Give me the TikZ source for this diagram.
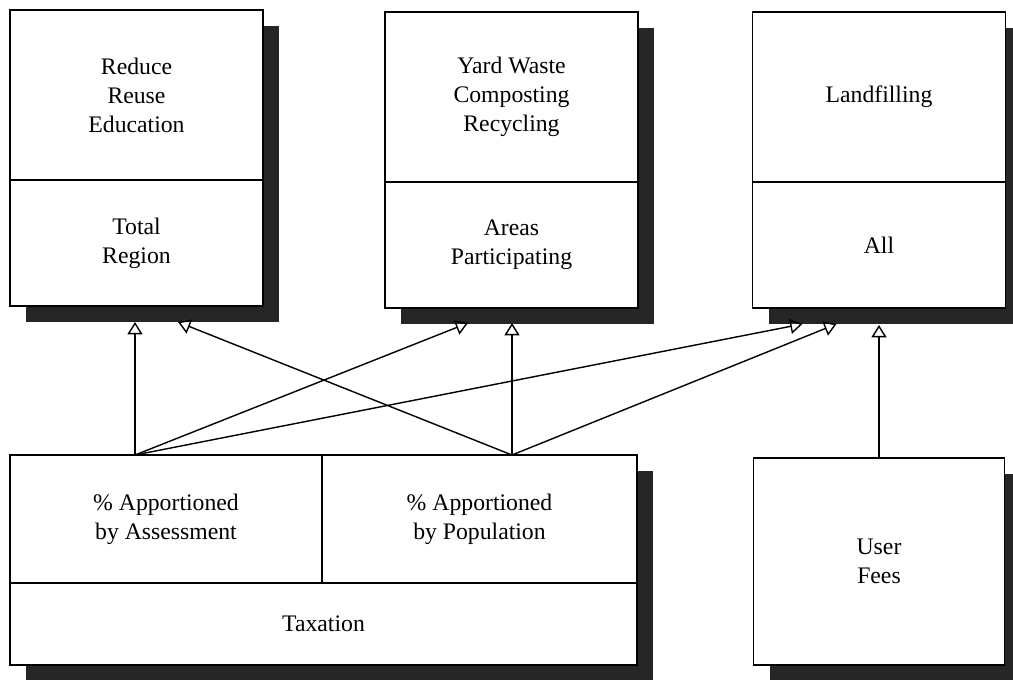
\documentclass[tikz,border=0pt]{standalone}
\usepackage{fontspec}
\setmainfont{Liberation Serif}
\usetikzlibrary{arrows.meta,positioning,calc,shadows}
\def\px{0.02cm}
\tikzset{
  compart/.style={draw,line width=0.8pt,fill=white,inner sep=0pt,outer sep=0pt,align=center,
    font=\fontsize{13.5}{16.5}\selectfont,
    drop shadow={shadow xshift=0.32cm,shadow yshift=-0.32cm,opacity=1,fill=black!85}},
  upper/.style={compart,minimum width=253*\px,minimum height=170*\px},
  lower/.style={compart,minimum width=253*\px,minimum height=126*\px},
  link/.style={->,line width=0.8pt},
}
\begin{document}
\begin{tikzpicture}[x=0.02cm,y=-0.02cm,>={Triangle[open,length=7pt,width=8.5pt]}]
\useasboundingbox (0,0) rectangle (1013,679);
%%% upper row of classes
\node[upper] (redtop) at (136.5,95) {Reduce\\Reuse\\Education};
\node[lower,below=0pt of redtop] (redbot) {Total\\Region};
\node[upper] (yardtop) at (511.5,97) {Yard Waste\\Composting\\Recycling};
\node[lower,below=0pt of yardtop] (yardbot) {Areas\\Participating};
\node[upper] (landtop) at (879,97) {Landfilling};
\node[lower,below=0pt of landtop] (landbot) {All};
%%% funding
\node[compart,minimum width=312*\px,minimum height=128*\px] (assess) at (166,519) {\% Apportioned\\by Assessment};
\node[compart,minimum width=315*\px,minimum height=128*\px,right=0pt of assess] (popul) {\% Apportioned\\by Population};
\node[compart,minimum width=627*\px,minimum height=82*\px,anchor=north west] (tax) at (assess.south west) {Taxation};
\node[compart,minimum width=251*\px,minimum height=207*\px] (fees) at (879,561.5) {User\\Fees};
%% link ends
\coordinate (srcA) at ($(assess.north west)+(125,0)$);
\coordinate (srcP) at ($(popul.north west)+(190,0)$);
%% links
\draw[link] (srcA) -- ($(redbot.south west)+(125,16)$);
\draw[link] (srcP) -- ($(redbot.south west)+(168,16)$);
\draw[link] (srcA) -- ($(yardbot.south west)+(83,15)$);
\draw[link] (srcP) -- (srcP |- {$(yardbot.south)+(0,15)$});
\draw[link] (srcA) -- ($(landbot.south west)+(50,16)$);
\draw[link] (srcP) -- ($(landbot.south west)+(84,16)$);
\draw[link] (fees.north) -- ($(landbot.south)+(0,17)$);
\end{tikzpicture}
\end{document}
